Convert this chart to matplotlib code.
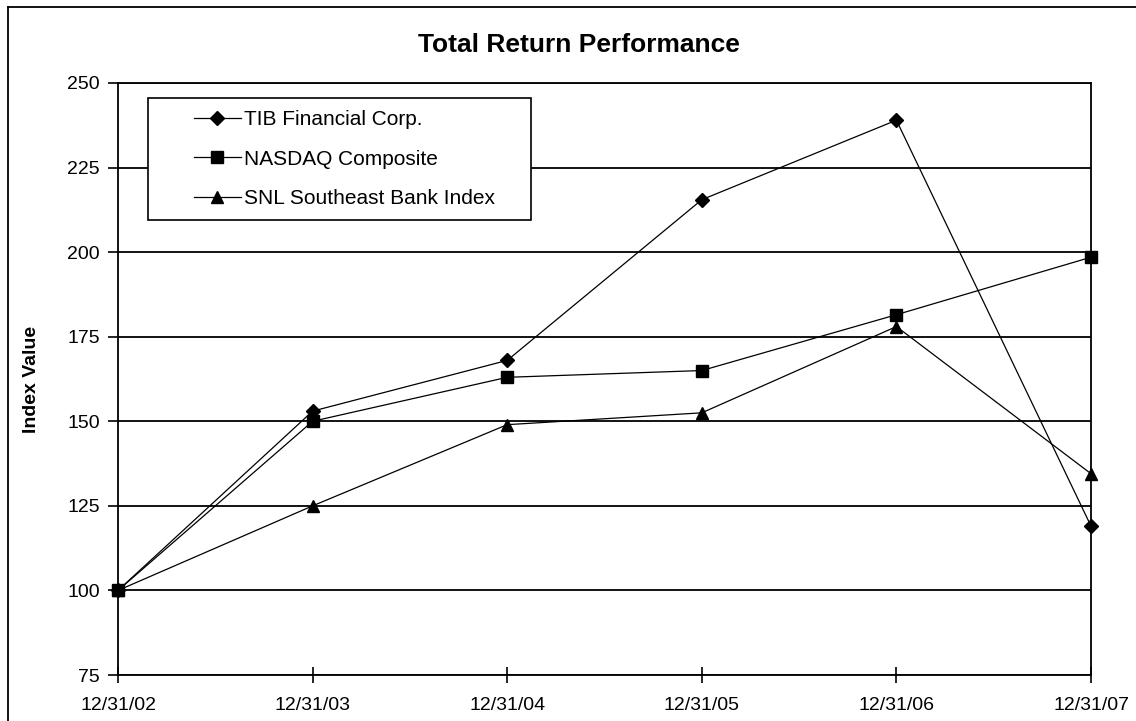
import matplotlib.pyplot as plt
from matplotlib.lines import Line2D
from matplotlib.patches import Rectangle

dates = ["12/31/02", "12/31/03", "12/31/04", "12/31/05", "12/31/06", "12/31/07"]
tib = [100, 153, 168, 215.5, 239, 119]
nasdaq = [100, 150, 163, 165, 181.5, 198.5]
snl = [100, 125, 149, 152.5, 178, 134.5]

plt.rcParams['font.family'] = ['Liberation Sans', 'DejaVu Sans']

fig = plt.figure(figsize=(11.36, 7.21), dpi=100)
ax = fig.add_axes([0.1039, 0.0638, 0.8565, 0.8211])

x = list(range(len(dates)))
ax.plot(x, tib, color="black", lw=0.9, marker="D", markersize=7, clip_on=False, label="TIB Financial Corp.")
ax.plot(x, nasdaq, color="black", lw=0.9, marker="s", markersize=8, clip_on=False, label="NASDAQ Composite")
ax.plot(x, snl, color="black", lw=0.9, marker="^", markersize=9, clip_on=False, label="SNL Southeast Bank Index")

ax.set_xlim(0, 5)
ax.set_ylim(75, 250)
ax.set_yticks(range(75, 251, 25))
ax.set_xticks(x)
ax.set_xticklabels(dates)
ax.yaxis.grid(True, color="black", lw=1.3)
ax.set_axisbelow(True)
for s in ax.spines.values():
    s.set_linewidth(1.3)
ax.tick_params(axis="y", direction="out", length=7, width=1.2, labelsize=14, pad=6)
ax.tick_params(axis="x", direction="inout", length=12, width=1.2, labelsize=14, pad=10)

ax.set_ylabel("Index Value", fontsize=14, fontweight="bold", labelpad=20)
fig.text(0.510, 0.9376, "Total Return Performance", ha="center", va="center",
         fontsize=19, fontweight="bold")

# legend box
ax.add_patch(Rectangle((0.031, 0.769), 0.393, 0.206, transform=ax.transAxes,
                       facecolor="white", edgecolor="black", lw=1.2, zorder=4))
leg = ax.legend(loc="upper left", bbox_to_anchor=(0.078, 0.954), borderaxespad=0,
                borderpad=0, fontsize=15, frameon=False,
                handlelength=2.25, handletextpad=0.15, labelspacing=0.98)
leg.set_zorder(5)

# outer chart border (runs off the right and bottom edges)
fig.add_artist(Line2D([8 / 1136, 1.0], [1 - 7 / 721, 1 - 7 / 721], transform=fig.transFigure, color="black", lw=1.3))
fig.add_artist(Line2D([8 / 1136, 8 / 1136], [0.0, 1 - 7 / 721], transform=fig.transFigure, color="black", lw=1.3))

fig.savefig("out.png", dpi=100)
plt.close(fig)
